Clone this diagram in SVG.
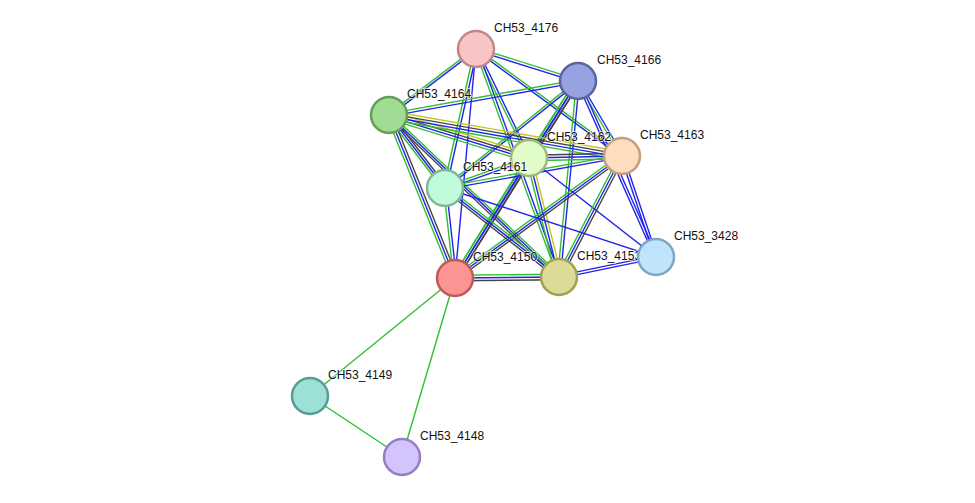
<svg xmlns="http://www.w3.org/2000/svg" xmlns:xlink="http://www.w3.org/1999/xlink" width="975" height="503" viewBox="0 0 975 503">
<style>
.g{stroke:#2fbf2f}.b{stroke:#2323ee}.k{stroke:#444}.y{stroke:#bfc820}
#edges use{stroke-width:1.4;fill:none}
text{font-family:"Liberation Sans",Arial,sans-serif;font-size:12px;fill:#111;paint-order:stroke;stroke:#fff;stroke-width:2px;stroke-opacity:0.6}
circle{stroke-width:2.5}
</style>
<defs>
<line id="e1" x1="476" y1="49" x2="389" y2="115"/>
<line id="e2" x1="476" y1="49" x2="578" y2="81"/>
<line id="e3" x1="476" y1="49" x2="445" y2="188"/>
<line id="e4" x1="476" y1="49" x2="529" y2="158"/>
<line id="e5" x1="476" y1="49" x2="622" y2="156"/>
<line id="e6" x1="476" y1="49" x2="455" y2="278"/>
<line id="e7" x1="476" y1="49" x2="559" y2="277"/>
<line id="e8" x1="578" y1="81" x2="389" y2="115"/>
<line id="e9" x1="578" y1="81" x2="529" y2="158"/>
<line id="e10" x1="578" y1="81" x2="622" y2="156"/>
<line id="e11" x1="578" y1="81" x2="445" y2="188"/>
<line id="e12" x1="578" y1="81" x2="455" y2="278"/>
<line id="e13" x1="578" y1="81" x2="559" y2="277"/>
<line id="e14" x1="578" y1="81" x2="656" y2="257"/>
<line id="e15" x1="389" y1="115" x2="529" y2="158"/>
<line id="e16" x1="389" y1="115" x2="622" y2="156"/>
<line id="e17" x1="389" y1="115" x2="445" y2="188"/>
<line id="e18" x1="389" y1="115" x2="455" y2="278"/>
<line id="e19" x1="389" y1="115" x2="559" y2="277"/>
<line id="e20" x1="529" y1="158" x2="622" y2="156"/>
<line id="e21" x1="529" y1="158" x2="445" y2="188"/>
<line id="e22" x1="529" y1="158" x2="455" y2="278"/>
<line id="e23" x1="529" y1="158" x2="559" y2="277"/>
<line id="e24" x1="529" y1="158" x2="656" y2="257"/>
<line id="e25" x1="622" y1="156" x2="445" y2="188"/>
<line id="e26" x1="622" y1="156" x2="455" y2="278"/>
<line id="e27" x1="622" y1="156" x2="559" y2="277"/>
<line id="e28" x1="622" y1="156" x2="656" y2="257"/>
<line id="e29" x1="445" y1="188" x2="455" y2="278"/>
<line id="e30" x1="445" y1="188" x2="559" y2="277"/>
<line id="e31" x1="445" y1="188" x2="656" y2="257"/>
<line id="e32" x1="455" y1="278" x2="559" y2="277"/>
<line id="e33" x1="559" y1="277" x2="656" y2="257"/>
<line id="e34" x1="455" y1="278" x2="310" y2="396"/>
<line id="e35" x1="455" y1="278" x2="402" y2="457"/>
<line id="e36" x1="310" y1="396" x2="402" y2="457"/>
</defs>
<rect width="975" height="503" fill="#fff"/>
<g id="edges">
<use href="#e1" class="g" y="-1.4"/><use href="#e1" class="b" y="1.4"/>
<use href="#e2" class="g" y="-1.4"/><use href="#e2" class="b" y="1.4"/>
<use href="#e3" class="g" x="-1.4"/><use href="#e3" class="b" x="1.4"/>
<use href="#e4" class="g" x="-1.4"/><use href="#e4" class="b" x="1.4"/>
<use href="#e5" class="g" y="-1.4"/><use href="#e5" class="b" y="1.4"/>
<use href="#e6" class="b"/>
<use href="#e7" class="g" x="-1.4"/><use href="#e7" class="b" x="1.4"/>
<use href="#e8" class="g" y="-1.4"/><use href="#e8" class="b" y="1.4"/>
<use href="#e9" class="g" x="-2.8"/><use href="#e9" class="b"/><use href="#e9" class="k" x="2.8"/>
<use href="#e10" class="g" x="-1.4"/><use href="#e10" class="b" x="1.4"/>
<use href="#e11" class="g" y="-1.4"/><use href="#e11" class="b" y="1.4"/>
<use href="#e12" class="g" x="-2.8"/><use href="#e12" class="b"/><use href="#e12" class="k" x="2.8"/>
<use href="#e13" class="g" x="-1.4"/><use href="#e13" class="b" x="1.4"/>
<use href="#e14" class="b" x="-1.4"/><use href="#e14" class="b" x="1.4"/>
<use href="#e15" class="y" y="-4.2"/><use href="#e15" class="k" y="-1.4"/><use href="#e15" class="b" y="1.4"/><use href="#e15" class="g" y="4.2"/>
<use href="#e16" class="y" y="-4.2"/><use href="#e16" class="k" y="-1.4"/><use href="#e16" class="b" y="1.4"/><use href="#e16" class="g" y="4.2"/>
<use href="#e17" class="g" x="-2.8"/><use href="#e17" class="b"/><use href="#e17" class="k" x="2.8"/>
<use href="#e18" class="g" x="-2.8"/><use href="#e18" class="b"/><use href="#e18" class="k" x="2.8"/>
<use href="#e19" class="g" y="-2.8"/><use href="#e19" class="b"/><use href="#e19" class="k" y="2.8"/>
<use href="#e20" class="k" y="-2.8"/><use href="#e20" class="b"/><use href="#e20" class="g" y="2.8"/>
<use href="#e21" class="g" y="-1.4"/><use href="#e21" class="b" y="1.4"/>
<use href="#e22" class="g" x="-2.8"/><use href="#e22" class="b"/><use href="#e22" class="k" x="2.8"/>
<use href="#e23" class="g" x="-2.8"/><use href="#e23" class="b"/><use href="#e23" class="y" x="2.8"/>
<use href="#e24" class="b"/>
<use href="#e25" class="g" y="-1.4"/><use href="#e25" class="b" y="1.4"/>
<use href="#e26" class="g" y="-2.8"/><use href="#e26" class="b"/><use href="#e26" class="k" y="2.8"/>
<use href="#e27" class="g" x="-2.8"/><use href="#e27" class="b"/><use href="#e27" class="k" x="2.8"/>
<use href="#e28" class="b" x="-1.4"/><use href="#e28" class="b" x="1.4"/>
<use href="#e29" class="g" x="-1.4"/><use href="#e29" class="b" x="1.4"/>
<use href="#e30" class="g" y="-2.8"/><use href="#e30" class="b"/><use href="#e30" class="k" y="2.8"/>
<use href="#e31" class="b"/>
<use href="#e32" class="g" y="-2.8"/><use href="#e32" class="b"/><use href="#e32" class="k" y="2.8"/>
<use href="#e33" class="b" y="-1.4"/><use href="#e33" class="b" y="1.4"/>
<use href="#e34" class="g"/>
<use href="#e35" class="g"/>
<use href="#e36" class="g"/>
</g>
<g id="n4176"><circle cx="476" cy="49" r="18" fill="#f7c5c5" stroke="#c08787"/><text x="494" y="32">CH53_4176</text></g>
<g id="n4166"><circle cx="578" cy="81" r="18" fill="#97a2e0" stroke="#5a64a0"/><text x="597" y="64">CH53_4166</text></g>
<g id="n4164"><circle cx="389" cy="115" r="18" fill="#a0dc94" stroke="#62a05a"/><text x="407" y="98">CH53_4164</text></g>
<g id="n4163"><circle cx="622" cy="156" r="18" fill="#fedcbe" stroke="#c0a080"/><text x="640" y="139">CH53_4163</text></g>
<g id="n4162"><circle cx="529" cy="158" r="18" fill="#e0fcc8" stroke="#a0b880"/><text x="547" y="141">CH53_4162</text></g>
<g id="n4161"><circle cx="445" cy="188" r="18" fill="#c0fcdc" stroke="#80b898"/><text x="463" y="171">CH53_4161</text></g>
<g id="n4150"><circle cx="455" cy="278" r="18" fill="#fc9494" stroke="#c05a5a"/><text x="473" y="261">CH53_4150</text></g>
<g id="n4153"><circle cx="559" cy="277" r="18" fill="#dcdc96" stroke="#a0a05a"/><text x="577" y="260">CH53_4153</text></g>
<g id="n3428"><circle cx="656" cy="257" r="18" fill="#c0e4fc" stroke="#80a6c0"/><text x="674" y="240">CH53_3428</text></g>
<g id="n4149"><circle cx="310" cy="396" r="18" fill="#9ce0d8" stroke="#5a9c94"/><text x="328" y="379">CH53_4149</text></g>
<g id="n4148"><circle cx="402" cy="457" r="18" fill="#d4c4fc" stroke="#9480c0"/><text x="420" y="440">CH53_4148</text></g>
</svg>
